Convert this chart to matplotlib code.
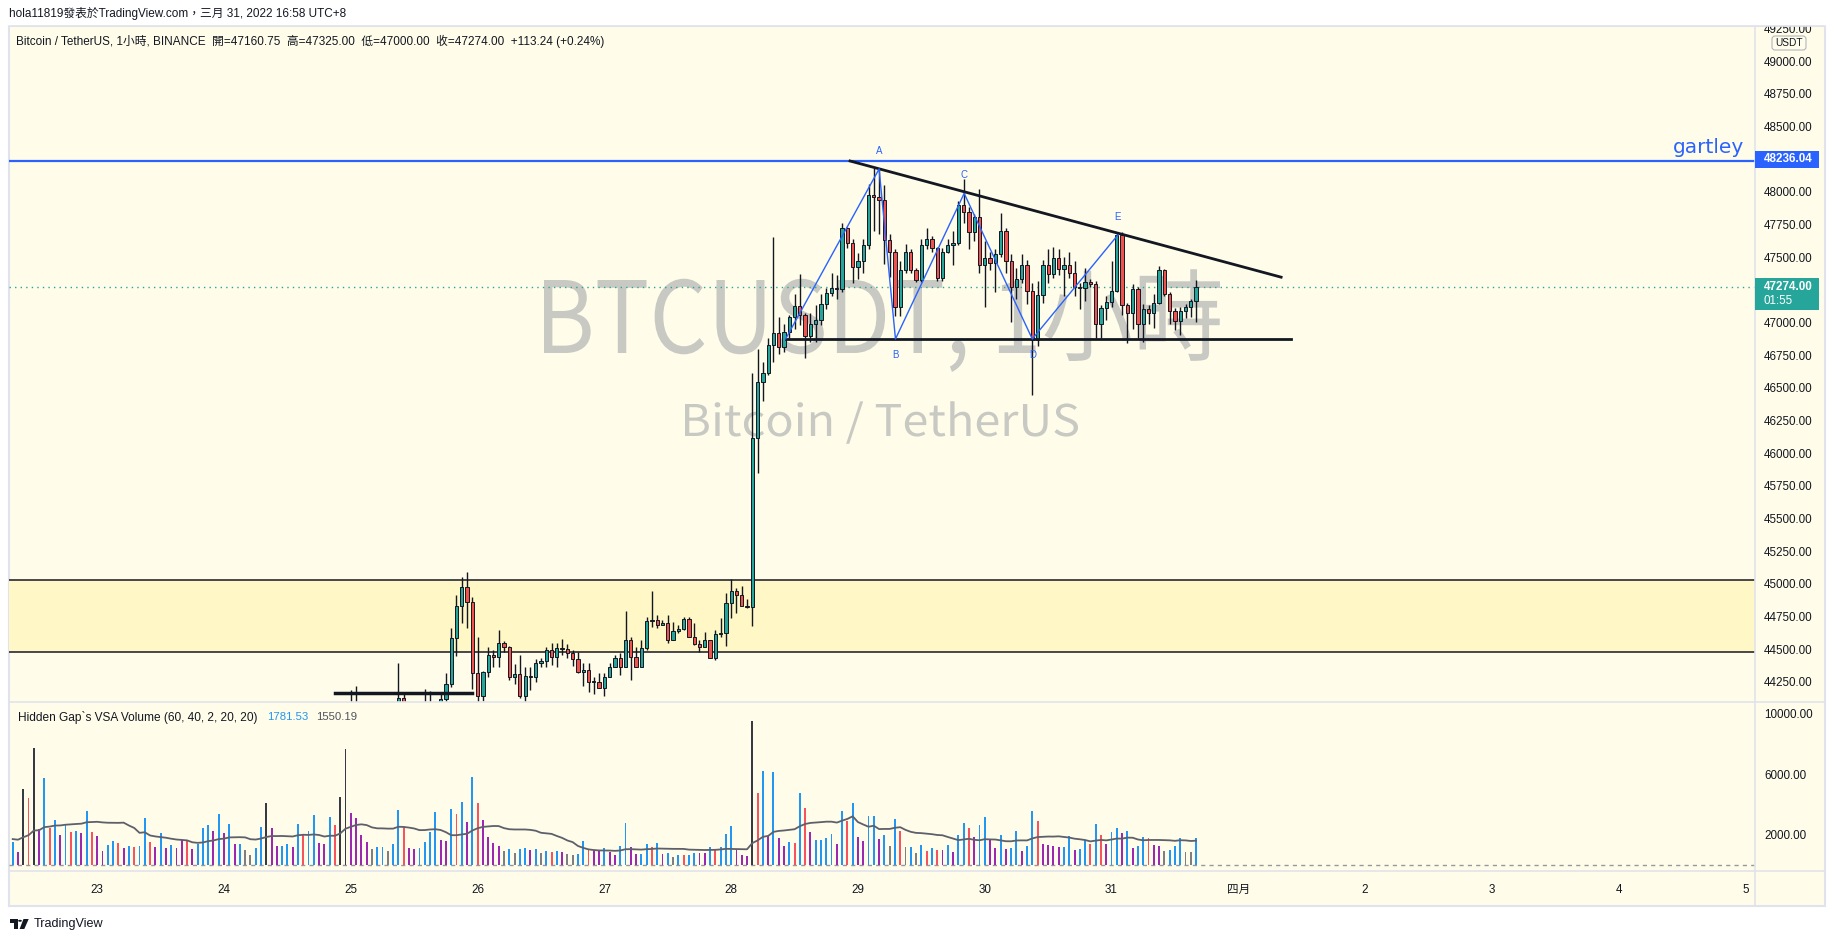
import numpy as np
import pandas as pd
import matplotlib
matplotlib.use("Agg")
import matplotlib.pyplot as plt
from matplotlib.patches import Rectangle, PathPatch, FancyBboxPatch, Polygon, Circle
from matplotlib.lines import Line2D
from matplotlib.textpath import TextPath
from matplotlib.font_manager import FontProperties
from matplotlib.transforms import Affine2D, IdentityTransform

# BTCUSDT 1h candles, Mar 22 08:00 -> Mar 31 16:00 (UTC+8)
first_open = 41900
c22 = [41950, 42020, 41980, 42400, 42850, 42700, 42780, 42900, 42820, 42950, 43050, 42880, 42790, 42850, 42930, 42870]
h22 = [42050, 42080, 42060, 42500, 43000, 42900, 42850, 42980, 42950, 43020, 43150, 43060, 42920, 42900, 42990, 42960]
l22 = [41850, 41920, 41900, 41950, 42380, 42650, 42680, 42760, 42780, 42800, 42920, 42850, 42740, 42760, 42820, 42800]

c23 = [42800, 42650, 42560, 42500, 42600, 42580, 42620, 42480, 42350, 42400, 42450, 42520, 42480, 42600, 42700, 42650, 42550, 42580, 42720, 42800, 42760, 42700, 42820, 42900]
h23 = [42900, 42820, 42700, 42600, 42650, 42640, 42680, 42640, 42500, 42450, 42500, 42560, 42560, 42650, 42760, 42730, 42680, 42620, 42760, 42850, 42830, 42780, 42850, 42950]
l23 = [42750, 42600, 42520, 42450, 42480, 42540, 42560, 42450, 42300, 42320, 42380, 42430, 42440, 42460, 42580, 42620, 42520, 42520, 42560, 42700, 42720, 42660, 42680, 42800]

c24 = [42950, 42880, 42850, 42900, 42980, 43050, 43000, 42950, 43100, 43250, 43200, 43150, 43300, 43350, 43420, 43380, 43450, 43500, 43600, 43550, 43650, 43720, 43800, 43950]
h24 = [43000, 42980, 42920, 42950, 43020, 43100, 43080, 43020, 43150, 43300, 43280, 43220, 43350, 43400, 43460, 43450, 43490, 43560, 43650, 43640, 43700, 43760, 43850, 44050]
l24 = [42880, 42840, 42800, 42820, 42880, 42950, 42960, 42900, 42930, 43080, 43150, 43100, 43140, 43280, 43330, 43340, 43370, 43420, 43480, 43500, 43540, 43620, 43700, 43780]

c25 = [44000, 44050, 43980, 43950, 43900, 43920, 43880, 43950, 44000, 44124, 44040, 43980, 43900, 43950, 44020, 44000, 43950, 44118, 44231, 44583, 44828, 44975, 44858, 44315]
h25 = [44188, 44218, 44060, 44010, 43980, 43960, 43950, 43990, 44050, 44392, 44157, 44060, 43990, 44098, 44195, 44182, 44030, 44154, 44318, 44659, 44914, 45050, 45090, 44900]
l25 = [43900, 43960, 43940, 43900, 43850, 43860, 43840, 43860, 43920, 43980, 44000, 43930, 43850, 43880, 43920, 43960, 43900, 43930, 44050, 44208, 44450, 44703, 44664, 44193]

c26 = [44144, 44323, 44453, 44438, 44544, 44519, 44290, 44307, 44144, 44292, 44285, 44392, 44409, 44493, 44442, 44506, 44503, 44468, 44422, 44325, 44342, 44246, 44246, 44203]
h26 = [44590, 44330, 44514, 44490, 44644, 44560, 44521, 44386, 44453, 44361, 44361, 44425, 44430, 44514, 44544, 44544, 44575, 44537, 44493, 44480, 44392, 44392, 44290, 44315]
l26 = [44040, 44103, 44290, 44361, 44361, 44480, 44267, 44231, 44124, 44098, 44190, 44246, 44366, 44361, 44380, 44366, 44455, 44430, 44371, 44320, 44220, 44175, 44157, 44200]

c27 = [44289, 44366, 44430, 44361, 44570, 44437, 44361, 44506, 44715, 44723, 44687, 44700, 44572, 44641, 44657, 44731, 44596, 44537, 44519, 44570, 44430, 44613, 44620, 44851]
h27 = [44320, 44392, 44455, 44470, 44792, 44590, 44520, 44570, 44749, 44945, 44760, 44723, 44760, 44710, 44685, 44749, 44749, 44697, 44570, 44634, 44570, 44647, 44736, 44932]
l27 = [44144, 44285, 44365, 44300, 44361, 44264, 44361, 44361, 44493, 44672, 44665, 44685, 44545, 44570, 44620, 44647, 44596, 44530, 44480, 44519, 44430, 44418, 44590, 44527]

c28 = [44942, 44917, 44830, 44825, 46113, 46547, 46610, 46827, 46916, 46809, 46924, 47044, 47126, 47057, 46899, 46988, 47018, 47138, 47222, 47261, 47253, 47720, 47605, 47421]
h28 = [45034, 44970, 44983, 44880, 46610, 46800, 46700, 46880, 47656, 47040, 46990, 47060, 47217, 47370, 47070, 47070, 47130, 47220, 47260, 47380, 47360, 47760, 47730, 47640]
l28 = [44740, 44775, 44830, 44812, 44680, 45845, 46400, 46600, 46700, 46760, 46770, 46880, 46950, 46980, 46725, 46850, 46850, 46980, 47100, 47200, 47180, 47230, 47570, 47300]

c29 = [47470, 47592, 47975, 47962, 47936, 47630, 47541, 47120, 47401, 47541, 47401, 47324, 47592, 47636, 47567, 47342, 47541, 47592, 47605, 47898, 47842, 47694, 47809, 47439]
h29 = [47530, 47640, 48060, 48184, 48174, 48050, 47680, 47560, 47470, 47600, 47560, 47420, 47640, 47720, 47660, 47580, 47570, 47640, 47700, 47930, 48095, 47880, 47830, 48018]
l29 = [47330, 47380, 47560, 47700, 47680, 47450, 47350, 47050, 47050, 47380, 47380, 47310, 47310, 47560, 47540, 47320, 47320, 47530, 47440, 47590, 47760, 47560, 47620, 47380]

c30 = [47490, 47452, 47521, 47700, 47472, 47273, 47330, 47440, 47243, 46865, 47210, 47440, 47370, 47490, 47406, 47440, 47380, 47273, 47260, 47311, 47290, 46985, 47108, 47159]
h30 = [47620, 47540, 47560, 47840, 47720, 47520, 47420, 47520, 47480, 47300, 47320, 47480, 47560, 47580, 47560, 47500, 47540, 47470, 47300, 47420, 47330, 47320, 47130, 47200]
l30 = [47120, 47400, 47230, 47500, 47380, 47000, 47180, 47300, 47140, 46445, 46820, 47150, 47300, 47340, 47360, 47200, 47340, 47200, 47100, 47160, 47270, 46880, 46880, 47020]

c31 = [47243, 47669, 47133, 47069, 47253, 46985, 47100, 47069, 47151, 47401, 47217, 47090, 47013, 47090, 47121, 47160.75, 47274]
h31 = [47470, 47694, 47694, 47150, 47290, 47270, 47140, 47130, 47220, 47430, 47410, 47230, 47110, 47120, 47140, 47180, 47325]
l31 = [47120, 47230, 47060, 46840, 46950, 46880, 46850, 46990, 46960, 47140, 47200, 46990, 46940, 46900, 47030, 47040, 47000]

# VSA volume per bar, colour code: b blue, r red, p purple, g gray, k black
# the 19 hours before the first visible bar are off-chart; estimated so the MA starts where it is drawn
v_prior = [1650, 1800, 1720, 1580, 1900, 1690, 1750, 1620, 1810, 1700, 1660, 1780, 1730, 1640, 1850, 1690, 1710, 1760, 1680]
v22 = [1521, 860, 5024, 4429, 7734, 2358, 5751, 2469, 2975, 1984, 2623, 2182, 2248, 2116, 3570, 2182]
k22 = "bpkrkpbrbpbrbpbr"
v23 = [1918, 927, 1323, 1587, 1455, 1125, 1257, 1213, 1257, 3108, 1521, 1191, 2116, 1125, 1323, 1125, 1653, 1587, 1059, 1389, 2447, 2645, 2248, 3372]
k23 = "ppbbrpbrbbrpbpbpprpbbbpb"
v24 = [2116, 2711, 1389, 1389, 993, 662, 1125, 2513, 4099, 2447, 1257, 1257, 1389, 1191, 2711, 1984, 2248, 3306, 1455, 1389, 3174, 2645, 4495, 7668]
k24 = "pbpbggbbkppbbpbrbbppbrkk"
v25 = [3438, 3108, 1984, 1521, 1059, 1191, 1191, 927, 1389, 3636, 2513, 1125, 1059, 1125, 1521, 2182, 3504, 1653, 1587, 3702, 3372, 4165, 2843, 5817]
k25 = "ppppgbbgbbrppbbbbppbrbpb"
v26 = [4099, 2975, 1852, 1455, 1257, 927, 1059, 794, 1059, 1125, 993, 1059, 794, 927, 860, 927, 860, 728, 662, 728, 1587, 993, 993, 927]
k26 = "rppppgbgbbpbgbrbpggbbrpp"
v27 = [1125, 882, 662, 1257, 2777, 1191, 728, 728, 1389, 1191, 1455, 728, 794, 530, 662, 662, 662, 794, 794, 794, 1191, 1059, 1191, 2050]
k27 = "bppbbppbbrbpbgbrbbppbrbb"
v28 = [2579, 993, 662, 596, 9518, 4760, 6214, 1918, 6148, 1786, 1257, 1521, 1455, 4760, 3768, 2182, 1653, 1653, 1786, 2050, 1389, 3570, 2909, 4099]
k28 = "bpppkrbpbppbrbrpbbbbpbrb"
v29 = [1852, 1587, 3240, 3240, 1719, 1984, 1257, 3042, 2248, 1191, 1191, 794, 1323, 927, 1125, 993, 993, 1323, 860, 1984, 2777, 2447, 1852, 2645]
k29 = "ppbbpbgbrgbgbrbrpbpbbrpb"
v30 = [3174, 1653, 1125, 1984, 1059, 1125, 2248, 927, 1257, 3570, 2909, 1389, 1323, 1257, 1191, 1191, 1918, 993, 1059, 1653, 1389, 2711, 1984, 1389]
k30 = "bppbpbbpbbrppppbbpbbrbrp"
v31 = [2182, 2447, 2116, 2248, 1125, 1257, 1852, 1786, 1323, 1257, 927, 993, 1257, 1786, 860, 860, 1781.53]
k31 = "bbpbpbbrppgbbbggb"

# drawings on the chart
zig_t = [130.3, 148.0, 151.1, 164.1, 177.0, 193.2]
zig_p = [46873, 48174, 46873, 47987, 46873, 47669]
zig_lab = ["", "A", "B", "C", "D", "E"]
trend_t = [142.5, 224.1]
trend_p = [48235, 47346]
support_t = [130.4, 225.9]
support_p = [46873, 46873]
base_t = [45.0, 71.0]
base_p = [44167, 44167]
zone_lo, zone_hi = 44478, 45029
gartley = 48236.04
last_price = 47274.00

day_ticks = [0, 24, 48, 72, 96, 120, 144, 168, 192, 216, 240, 264, 288, 312]
day_labels = ["23", "24", "25", "26", "27", "28", "29", "30", "31", "四月", "2", "3", "4", "5"]
price_ticks = [44250, 44500, 44750, 45000, 45250, 45500, 45750, 46000, 46250, 46500, 46750,
               47000, 47500, 47750, 48000, 48500, 48750, 49000, 49250]
vol_ticks = [2000, 6000, 10000]

close = np.array(c22 + c23 + c24 + c25 + c26 + c27 + c28 + c29 + c30 + c31, dtype=float)
high = np.array(h22 + h23 + h24 + h25 + h26 + h27 + h28 + h29 + h30 + h31, dtype=float)
low = np.array(l22 + l23 + l24 + l25 + l26 + l27 + l28 + l29 + l30 + l31, dtype=float)
vol = np.array(v22 + v23 + v24 + v25 + v26 + v27 + v28 + v29 + v30 + v31, dtype=float)
vcode = k22 + k23 + k24 + k25 + k26 + k27 + k28 + k29 + k30 + k31
openp = np.concatenate([[first_open], close[:-1]])
hours = np.arange(-16, -16 + len(close))  # hours from Mar 23 00:00

FAM = ["Liberation Sans", "Noto Sans CJK TC", "DejaVu Sans"]
plt.rcParams["font.family"] = FAM
plt.rcParams["font.size"] = 8.4

W, H = 1834, 942
BG = "#FFFDE9"
ZONE = "#FFF8C6"
LINE = "#E0E3EB"
TXT = "#131722"
UP, DOWN = "#26A69A", "#EF5350"
VCOL = {"b": "#2196F3", "r": "#F7525F", "p": "#9C27B0", "g": "#7E7E85", "k": "#363A45"}


def fx(x):
    return x / W


def fy(y):
    return 1 - y / H


fig = plt.figure(figsize=(W / 100, H / 100), dpi=100, facecolor="white")
fig.add_artist(Rectangle((fx(9), fy(906)), fx(1825) - fx(9), fy(26) - fy(906),
                         transform=fig.transFigure, facecolor=BG, edgecolor=LINE, lw=1.5, zorder=-2))

ax = fig.add_axes([fx(9), fy(702), fx(1755) - fx(9), fy(26) - fy(702)])
axv = fig.add_axes([fx(9), fy(871), fx(1755) - fx(9), fy(702) - fy(871)], sharex=ax)
for a in (ax, axv):
    a.set_facecolor("none")
    for s in a.spines.values():
        s.set_visible(False)

# watermark, squeezed to the width seen on the chart
def watermark(s, x0, x1, base_y, cap_h, color="#C9C9C3"):
    fp = FontProperties(family="Noto Sans CJK TC")
    tp = TextPath((0, 0), s, size=100, prop=fp)
    cap = TextPath((0, 0), "T", size=100, prop=fp).get_extents().height
    bb = tp.get_extents()
    tr = Affine2D().translate(-bb.x0, 0).scale((x1 - x0) / bb.width, cap_h / cap).translate(x0, H - base_y)
    fig.add_artist(PathPatch(tr.transform_path(tp), facecolor=color, edgecolor="none",
                             transform=IdentityTransform(), zorder=-1))

watermark("BTCUSDT, 1小時", 544, 1220, 353, 73)
watermark("Bitcoin / TetherUS", 685, 1078, 436, 32)

# price pane
ax.axhspan(zone_lo, zone_hi, color=ZONE, zorder=0.5, lw=0)
ax.axhline(zone_lo, color=TXT, lw=1.1, zorder=1)
ax.axhline(zone_hi, color=TXT, lw=1.1, zorder=1)
ax.axhline(gartley, color="#2962FF", lw=1.6, zorder=1)
ax.axhline(last_price, color=UP, lw=1, ls=(0, (1, 3)), zorder=1)

ax.vlines(hours, low, high, colors=TXT, lw=1.0, zorder=2)
up = close >= openp
body_lo = np.minimum(openp, close)
body_h = np.maximum(np.abs(close - openp), 8)
ax.bar(hours, body_h, bottom=body_lo, width=0.62, color=np.where(up, UP, DOWN),
       edgecolor=TXT, linewidth=0.7, zorder=3)

ax.plot(trend_t, trend_p, color=TXT, lw=2, zorder=4)
ax.plot(support_t, support_p, color=TXT, lw=2, zorder=4)
ax.plot(base_t, base_p, color=TXT, lw=2.5, zorder=4)
ax.plot(zig_t, zig_p, color="#2962FF", lw=1, zorder=4)
for i, lab in enumerate(zig_lab):
    if not lab:
        continue
    dy = 13 if zig_p[i] > zig_p[i - 1] else -11.5
    ax.annotate(lab, (zig_t[i], zig_p[i]), xytext=(0, dy), textcoords="offset points",
                ha="center", va="center", fontsize=7, color="#2962FF", zorder=5)

ax.annotate("gartley", (1, gartley), xycoords=ax.get_yaxis_transform(), xytext=(-8, 5.5),
            textcoords="offset points", ha="right", va="baseline", fontsize=14.5,
            color="#2962FF", family="DejaVu Sans")

ax.set_xlim(-16.70, 313.8)
ax.set_ylim(44095.6, 49267.8)
ax.yaxis.tick_right()
ax.set_yticks(price_ticks, [f"{p:.2f}" for p in price_ticks])
ax.tick_params(axis="y", length=0, pad=6.5, labelsize=8.4, labelcolor=TXT)
ax.tick_params(axis="x", bottom=False, labelbottom=False)

# volume pane, MA(20) of volume
ma_full = pd.Series(v_prior + list(vol)).rolling(20, min_periods=1).mean()
ma = ma_full.iloc[len(v_prior):].to_numpy()
axv.axhline(0, color="#9598A1", lw=1, ls=(0, (3, 3)), zorder=1)
axv.bar(hours, vol, width=0.36, color=[VCOL[c] for c in vcode], zorder=2)
axv.plot(hours, ma, color="#5D606B", lw=1.3, zorder=3)
axv.set_ylim(-397, 10774)
axv.yaxis.tick_right()
axv.set_yticks(vol_ticks, [f"{v:.2f}" for v in vol_ticks])
axv.tick_params(axis="y", length=0, pad=6.5, labelsize=8.4, labelcolor=TXT)
axv.set_xticks(day_ticks, day_labels)
axv.tick_params(axis="x", length=0, pad=9.5, labelsize=8.4, labelcolor=TXT)

# frame lines
for xs, ys in [([1755, 1755], [26, 906]), ([9, 1825], [702, 702]), ([9, 1825], [871, 871]),
               ([9, 1825], [26, 26])]:
    fig.add_artist(Line2D([fx(x) for x in xs], [fy(y) for y in ys], transform=fig.transFigure,
                          color=LINE, lw=1.2, zorder=6))
fig.add_artist(Rectangle((0, fy(25.5)), 1, 25.5 / H, transform=fig.transFigure,
                         facecolor="white", edgecolor="none", zorder=5))

# price tags on the right scale
fig.add_artist(Rectangle((fx(1755), fy(168)), fx(1819) - fx(1755), 17 / H, transform=fig.transFigure,
                         facecolor="#2962FF", edgecolor="none", zorder=7))
fig.text(fx(1764), fy(159.5), f"{gartley:.2f}", color="white", fontsize=8.4, weight="bold",
         va="center", zorder=8)
fig.add_artist(Rectangle((fx(1755), fy(310)), fx(1819) - fx(1755), 32 / H, transform=fig.transFigure,
                         facecolor=UP, edgecolor="none", zorder=7))
fig.text(fx(1764), fy(287), f"{last_price:.2f}", color="white", fontsize=8.4, weight="bold",
         va="center", zorder=8)
fig.text(fx(1764), fy(301), "01:55", color="white", fontsize=8.4, va="center", zorder=8)
fig.add_artist(FancyBboxPatch((1772, H - 50), 34, 14, boxstyle="round,pad=0,rounding_size=3",
                              transform=IdentityTransform(), facecolor=BG, edgecolor="#B2B5BE",
                              lw=0.8, zorder=7))
fig.text(fx(1789), fy(43), "USDT", fontsize=7.3, color=TXT, ha="center", va="center", zorder=8)

# texts fitted to their measured width
renderer = fig.canvas.get_renderer()


def fit_text(x, y, s, width, color=TXT):
    t = fig.text(fx(x), fy(y), s, color=color, fontsize=10, va="center", ha="left", zorder=8)
    w = t.get_window_extent(renderer).width
    t.set_fontsize(10 * width / w)
    return t

fit_text(9, 14, "hola11819發表於TradingView.com，三月 31, 2022 16:58 UTC+8", 338)
fit_text(16, 41, "Bitcoin / TetherUS, 1小時, BINANCE  開=47160.75  高=47325.00  低=47000.00  "
         "收=47274.00  +113.24 (+0.24%)", 586)
fit_text(18, 717, "Hidden Gap`s VSA Volume (60, 40, 2, 20, 20)", 240)
fit_text(267, 717, "1781.53", 41, color="#2196F3")
fit_text(316.5, 717, "1550.19", 41, color="#50535E")

# TradingView logo
fig.add_artist(Polygon([(fx(10), fy(919)), (fx(17.5), fy(919)), (fx(17.5), fy(929)), (fx(14), fy(929)),
                        (fx(14), fy(922.5)), (fx(10), fy(922.5))], transform=fig.transFigure,
                       facecolor=TXT, edgecolor="none"))
fig.add_artist(Circle((fx(20), fy(920.8)), 1.9 / W, transform=fig.transFigure, facecolor=TXT,
                      edgecolor="none"))
fig.add_artist(Polygon([(fx(23.5), fy(919)), (fx(28.7), fy(919)), (fx(24.3), fy(929)), (fx(19.6), fy(929))],
                       transform=fig.transFigure, facecolor=TXT, edgecolor="none"))
fit_text(33.7, 924, "TradingView", 69.6)

fig.savefig("out.png", dpi=100, facecolor="white")
